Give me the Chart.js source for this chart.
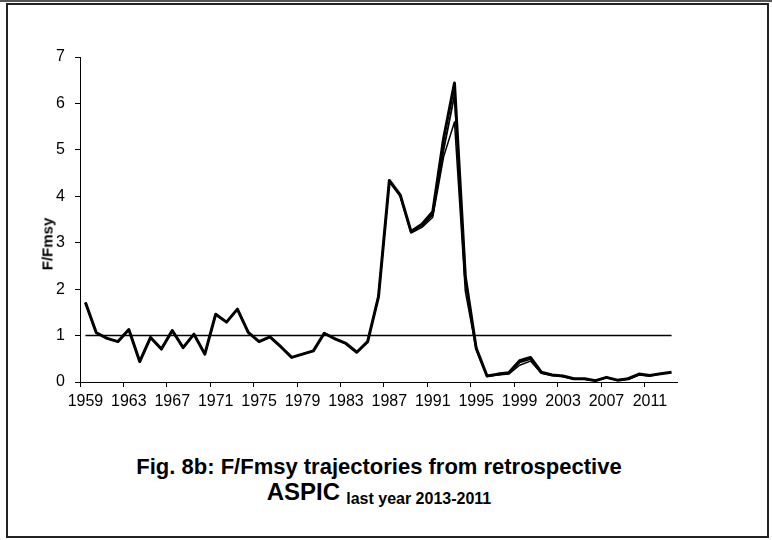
<!DOCTYPE html>
<html lang="en">
<head>
    <meta charset="UTF-8">
    <title>Fig. 8b - F/Fmsy retrospective ASPIC</title>
    <style>
        body {
            margin: 0;
            background: #fff;
            font-family: "Liberation Sans", Arial, sans-serif;
        }

        .page {
            position: relative;
            width: 772px;
            height: 540px;
            overflow: hidden;
        }

        .topline {
            position: absolute;
            left: 0;
            top: 0;
            width: 772px;
            height: 2px;
            background: #555;
        }

        .frame {
            position: absolute;
            left: 6px;
            top: 3px;
            width: 763px;
            height: 535px;
            border: 2px solid #222;
            box-sizing: border-box;
        }

        .chart-box {
            position: absolute;
            left: 0;
            top: 0;
        }

        /* y axis title, rotated like the Excel original */
        .y-title {
            position: absolute;
            left: 47px;
            top: 244px;
            transform: translate(-50%, -50%) rotate(-90deg);
            font-weight: bold;
            font-size: 15px;
            color: #000;
            white-space: nowrap;
        }

        .caption {
            position: absolute;
            left: 0;
            top: 454px;
            width: 758px;
            text-align: center;
            font-weight: bold;
            font-size: 22px;
            line-height: 25px;
            color: #000;
        }

        .caption .big {
            font-size: 24px;
        }

        .caption sub {
            font-size: 16px;
            vertical-align: -4px;
        }
    </style>
</head>
<body>
    <div class="page">
        <div class="topline"></div>
        <div class="frame"></div>
        <div class="chart-box">
            <canvas id="fChart" width="772" height="420"></canvas>
        </div>
        <div class="y-title">F/Fmsy</div>
        <div class="caption">
            Fig. 8b: F/Fmsy trajectories from retrospective<br>
            <span class="big">ASPIC</span> <sub>last year 2013-2011</sub>
        </div>
    </div>

    <script src="https://cdn.jsdelivr.net/npm/chart.js"></script>
    <script>
        // Data
        const years = ['1959', '1960', '1961', '1962', '1963', '1964', '1965', '1966', '1967', '1968',
            '1969', '1970', '1971', '1972', '1973', '1974', '1975', '1976', '1977', '1978',
            '1979', '1980', '1981', '1982', '1983', '1984', '1985', '1986', '1987', '1988',
            '1989', '1990', '1991', '1992', '1993', '1994', '1995', '1996', '1997', '1998',
            '1999', '2000', '2001', '2002', '2003', '2004', '2005', '2006', '2007', '2008',
            '2009', '2010', '2011', '2012', '2013'];

        // retrospective run, last year 2013
        const run2013 = [1.71, 1.06, 0.94, 0.87, 1.13, 0.44, 0.96, 0.71, 1.11, 0.74,
            1.03, 0.60, 1.46, 1.29, 1.57, 1.07, 0.87, 0.97, 0.76, 0.53,
            0.60, 0.67, 1.05, 0.93, 0.83, 0.64, 0.87, 1.84, 4.34, 4.03,
            3.24, 3.40, 3.67, 5.25, 6.44, 2.27, 0.73, 0.13, 0.17, 0.20,
            0.46, 0.53, 0.21, 0.15, 0.13, 0.07, 0.07, 0.03, 0.10, 0.04,
            0.07, 0.17, 0.14, 0.18, 0.21];

        // last year 2012
        const run2012 = [1.71, 1.06, 0.94, 0.87, 1.13, 0.44, 0.96, 0.71, 1.11, 0.74,
            1.03, 0.60, 1.46, 1.29, 1.57, 1.07, 0.87, 0.97, 0.76, 0.53,
            0.60, 0.67, 1.05, 0.93, 0.83, 0.64, 0.87, 1.84, 4.33, 4.02,
            3.23, 3.37, 3.60, 5.00, 6.18, 2.20, 0.72, 0.13, 0.16, 0.19,
            0.42, 0.49, 0.20, 0.15, 0.12, 0.07, 0.06, 0.03, 0.10, 0.04,
            0.07, 0.16, 0.14, 0.17, null];

        // last year 2011
        const run2011 = [1.71, 1.06, 0.94, 0.87, 1.13, 0.44, 0.96, 0.71, 1.11, 0.74,
            1.03, 0.60, 1.46, 1.29, 1.57, 1.07, 0.87, 0.97, 0.76, 0.53,
            0.60, 0.67, 1.05, 0.93, 0.83, 0.64, 0.87, 1.83, 4.31, 4.00,
            3.21, 3.33, 3.55, 4.85, 5.60, 1.95, 0.70, 0.12, 0.15, 0.17,
            0.36, 0.45, 0.19, 0.14, 0.12, 0.06, 0.06, 0.03, 0.09, 0.04,
            0.06, 0.15, 0.13, null, null];

        const refLine = [1, 1, 1, 1, 1, 1, 1, 1, 1, 1, 1, 1, 1, 1, 1, 1, 1, 1, 1, 1,
            1, 1, 1, 1, 1, 1, 1, 1, 1, 1, 1, 1, 1, 1, 1, 1, 1, 1, 1, 1,
            1, 1, 1, 1, 1, 1, 1, 1, 1, 1, 1, 1, 1, 1, 1];

        const yTicks = [0, 1, 2, 3, 4, 5, 6, 7];

        function lineSet(label, data, width) {
            return {
                label: label,
                data: data,
                borderColor: '#000',
                borderWidth: width,
                pointRadius: 0,
                tension: 0,
                fill: false,
                borderJoinStyle: 'round',
                spanGaps: false
            };
        }

        const ctx = document.getElementById('fChart').getContext('2d');
        const fChart = new Chart(ctx, {
            type: 'line',
            data: {
                labels: years,
                datasets: [
                    lineSet('Fmsy', refLine, 1.5),
                    lineSet('2011', run2011, 1.5),
                    lineSet('2012', run2012, 1.8),
                    lineSet('2013', run2013, 3)
                ]
            },
            options: {
                responsive: false,
                animation: false,
                layout: {
                    padding: { top: 57, right: 95, bottom: 0, left: 0 }
                },
                plugins: {
                    legend: { display: false },
                    tooltip: { enabled: false }
                },
                scales: {
                    x: {
                        type: 'category',
                        offset: true,
                        grid: {
                            offset: true,
                            drawOnChartArea: false,
                            tickLength: 5,
                            tickWidth: 1,
                            tickColor: function(c) {
                                return c.index % 4 === 0 ? '#000' : 'rgba(0,0,0,0)';
                            }
                        },
                        border: { color: '#000', width: 1 },
                        ticks: {
                            autoSkip: false,
                            maxRotation: 0,
                            minRotation: 0,
                            padding: 5,
                            color: '#000',
                            font: { size: 16, family: '"Liberation Sans", Arial, sans-serif' },
                            callback: function(val, i) {
                                return i % 4 === 0 ? this.getLabelForValue(val) : '';
                            }
                        },
                        afterFit: function(scale) { scale.height = 38; }
                    },
                    y: {
                        min: 0,
                        max: 7,
                        afterBuildTicks: function(scale) {
                            scale.ticks = yTicks.map(function(v) { return { value: v }; });
                        },
                        grid: {
                            drawOnChartArea: false,
                            tickLength: 5,
                            color: '#000'
                        },
                        border: { color: '#000', width: 1 },
                        ticks: {
                            padding: 10,
                            color: '#000',
                            font: { size: 16, family: '"Liberation Sans", Arial, sans-serif' }
                        },
                        afterFit: function(scale) { scale.width = 80; }
                    }
                }
            }
        });
    </script>
</body>
</html>
